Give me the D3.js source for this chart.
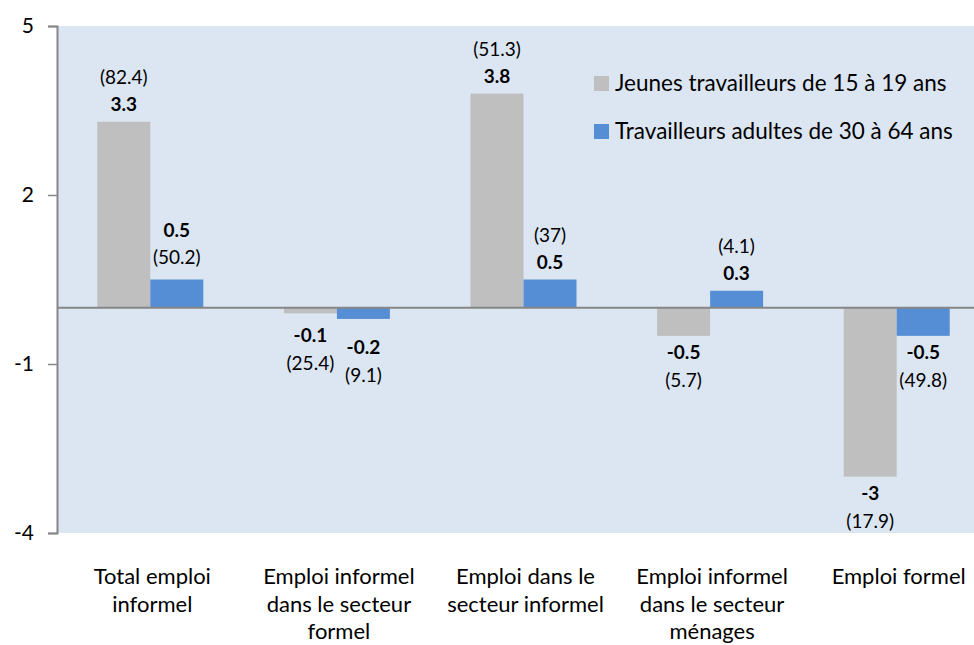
<!DOCTYPE html>
<html><head><meta charset="utf-8">
<script src="https://cdn.jsdelivr.net/npm/d3@7"></script>
<style>body{margin:0;background:#fff;} text{font-family:Lato,"Open Sans",sans-serif;}</style>
</head><body><svg id="c" width="974" height="645"></svg>
<script>
const categories = [
  ["Total emploi","informel"],
  ["Emploi informel","dans le secteur","formel"],
  ["Emploi dans le","secteur informel"],
  ["Emploi informel","dans le secteur","ménages"],
  ["Emploi formel"]
];
const seriesNames = ["Jeunes travailleurs de 15 à 19 ans","Travailleurs adultes de 30 à 64 ans"];
const youngValues = [3.3, -0.1, 3.8, -0.5, -3];
const adultValues = [0.5, -0.2, 0.5, 0.3, -0.5];
const youngCounts = ["(82.4)","(25.4)","(51.3)","(5.7)","(17.9)"];
const adultCounts = ["(50.2)","(9.1)","(37)","(4.1)","(49.8)"];
const yTicks = [-4, -1, 2, 5];
const colors = ["#bfbfbf", "#558ed5"];

const svg = d3.select("#c");
const mLeft = 57, mRight = 990, mTop = 26, mBottom = 533;
const x0 = d3.scaleBand().domain(d3.range(categories.length)).range([mLeft, mRight]);
const x1 = d3.scaleBand().domain([0,1]).range([0, x0.bandwidth()]).paddingOuter(0.76);
const y = d3.scaleLinear().domain([-4, 5]).range([mBottom, mTop]);

svg.append("rect").attr("x", mLeft).attr("y", mTop).attr("width", mRight-mLeft).attr("height", mBottom-mTop).attr("fill", "#dce6f2");

const data = [];
categories.forEach((c, i) => {
  data.push({i, s:0, v:youngValues[i], n:youngCounts[i]});
  data.push({i, s:1, v:adultValues[i], n:adultCounts[i]});
});

svg.selectAll("rect.bar").data(data).enter().append("rect").attr("class","bar")
  .attr("x", d => x0(d.i) + x1(d.s))
  .attr("width", x1.bandwidth())
  .attr("y", d => y(Math.max(0, d.v)))
  .attr("height", d => Math.abs(y(d.v) - y(0)))
  .attr("fill", d => colors[d.s]);

// zero line
svg.append("line").attr("x1", mLeft).attr("x2", mRight).attr("y1", y(0)).attr("y2", y(0))
  .attr("stroke", "#868686").attr("stroke-width", 2);

// y axis
const yAxis = d3.axisLeft(y).tickValues(yTicks).tickSize(9).tickPadding(14).tickFormat(d => String(d));
const ga = svg.append("g").attr("transform", `translate(${mLeft},0)`).call(yAxis);
ga.select(".domain").attr("stroke", "#868686").attr("stroke-width", 2);
ga.selectAll(".tick line").attr("stroke", "#868686").attr("stroke-width", 1.5);
ga.selectAll(".tick text").attr("font-size", 21).attr("fill", "#000").attr("font-family", "Lato,sans-serif");

// value labels
const z = y(0);
data.forEach(d => {
  const cx = x0(d.i) + x1(d.s) + x1.bandwidth()/2;
  let vY, nY;
  if (d.v >= 0) {
    const t = y(d.v);
    if (d.i === 0 && d.s === 1) { nY = t - 16; vY = nY - 27; }
    else { vY = t - 11; nY = vY - 27; }
  } else {
    const b = y(d.v);
    vY = Math.max(b + 23, z + 34);
    if (d.i === 1 && d.s === 1) vY += 12;
    nY = vY + 28;
  }
  svg.append("text").attr("x", cx).attr("y", vY).attr("text-anchor","middle")
    .attr("font-size", 19).attr("font-weight", "bold").text(d.v);
  svg.append("text").attr("x", cx).attr("y", nY).attr("text-anchor","middle")
    .attr("font-size", 19).text(d.n);
});

// category labels
categories.forEach((lines, i) => {
  const cx = x0(i) + x0.bandwidth()/2 + 2;
  const t = svg.append("text").attr("x", cx).attr("y", 584)
    .attr("text-anchor","middle").attr("font-size", 22);
  lines.forEach((l, k) => t.append("tspan").attr("x", cx).attr("dy", k ? 27.5 : 0).text(l));
});

// legend
seriesNames.forEach((s, k) => {
  const ly = 76 + k * 48;
  svg.append("rect").attr("x", 594).attr("y", ly).attr("width", 15).attr("height", 15).attr("fill", colors[k]);
  svg.append("text").attr("x", 615).attr("y", ly + 15).attr("font-size", 22.5).text(s);
});
</script></body></html>
